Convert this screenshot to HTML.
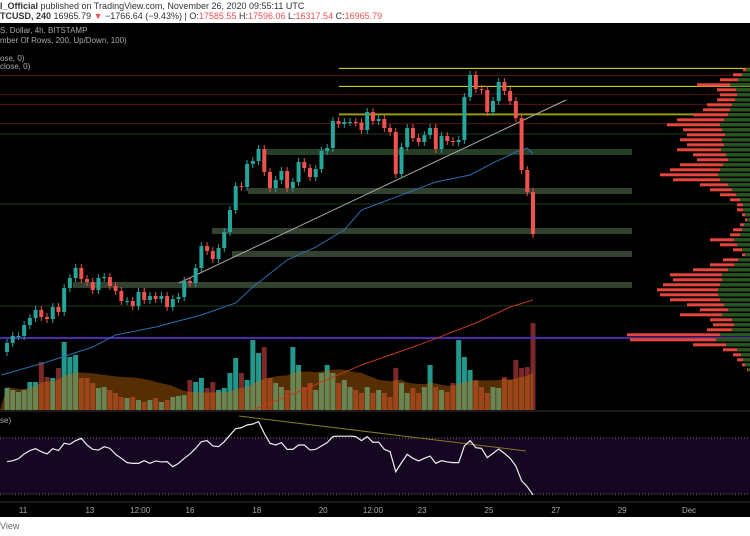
<!DOCTYPE html>
<html><head><meta charset="utf-8"><style>
body{margin:0;width:750px;height:536px;overflow:hidden;background:#fff;font-family:"Liberation Sans",sans-serif;}
#hdr{position:absolute;left:0;top:0;width:750px;height:23px;font-size:9px;color:#333;}
#hdr div{position:absolute;left:0;white-space:nowrap}
.red{color:#ef5350}
svg{position:absolute;left:0;top:0}
</style></head><body>
<div id="hdr">
<div style="top:1px"><b>l_Official</b> published on TradingView.com, November 26, 2020 09:55:11 UTC</div>
<div style="top:11px"><b>TCUSD, 240</b> 16965.79 <span class="red">▼</span> −1766.64 (−9.43%) | O:<span class="red">17585.55</span> H:<span class="red">17596.06</span> L:<span class="red">16317.54</span> C:<span class="red">16965.79</span></div>
</div>
<svg id="c" width="750" height="536"></svg>
<div style="position:absolute;left:0;top:521px;font-size:9px;color:#666">View</div>
<script>
const firstOpen = 15185;
const closes = [15321,15426,15426,15592,15698,15819,15713,15683,15864,15789,16151,16302,16453,16287,16242,16121,16302,16317,16181,16106,15955,15955,15879,16091,15970,16030,15985,16030,15864,15985,16015,16257,16227,16453,16785,16710,16589,16755,16997,17329,17691,17676,18024,18069,18250,17903,17661,17782,17918,17661,17752,18054,17963,17827,17948,18220,18265,18673,18628,18658,18658,18650,18537,18809,18673,18703,18567,18507,17873,18280,18567,18416,18356,18461,18567,18250,18446,18371,18356,18386,19035,19368,19156,19141,18809,18975,19262,19126,18975,18718,17933,17601,16966];
const volumes = [22,20,18,20,28,28,48,33,32,42,68,53,55,32,32,27,22,23,20,17,13,12,13,10,8,10,12,8,10,13,14,15,30,28,32,22,28,20,22,37,52,37,30,70,57,63,32,27,23,20,63,45,23,27,20,37,45,37,27,30,23,20,17,23,17,20,17,13,42,27,17,22,17,23,45,23,20,18,27,70,53,40,30,23,17,23,22,33,30,50,42,43,87];
const rsi = [53.1,53.8,55.2,58.6,61,62.4,60.2,58.6,62.4,61,66.2,65.5,68.1,69.8,65,61.9,61.4,63.8,62.6,58.3,55.5,52.4,51.9,51.9,53.8,51.9,53.6,52.9,53.1,49.5,51.9,55.5,58.6,62.6,67.4,68.1,64.3,63.8,67.4,72.1,76.7,77.4,79.3,80,81.7,73.3,66.2,65,66.7,61.9,61.9,65,65,61.4,61.9,64.3,66.7,71,71.4,71.2,71.4,71,68.1,71,66.9,67.1,61.9,60.2,45.9,52.4,58.3,55.5,53.6,55.5,57.1,51.9,53.8,52.9,52.4,52.4,64.3,68.1,63.1,62.6,56,59,62.1,59,55.5,50,39.5,35.2,29.3];
const maFastIdx = [-1,7,15,19,26,34,40,43,49,54,59,62,69,75,81,85,89,91,92];
const maFastVal = [14838,15034,15260,15442,15562,15744,15925,16166,16574,16770,17027,17329,17556,17752,17858,18039,18205,18265,18175];
const maSlowIdx = [43,53,62,72,82,88,92];
const maSlowVal = [14309,14656,14989,15290,15623,15864,15970];
const profileTop = 19446; const profileStep = 75.5;
const profileTotal = [7,17,30,53,33,30,33,43,47,57,73,83,67,63,70,63,73,57,53,70,80,90,77,50,40,30,20,13,13,8,5,10,17,20,40,30,17,8,27,40,57,80,77,87,93,90,80,63,50,70,40,37,43,123,120,57,27,17,13,8,3];
const profileUp = [4,8,12,20,14,13,15,18,20,22,26,30,28,25,28,26,29,24,22,27,30,32,30,22,18,14,10,7,7,5,3,6,8,10,16,13,8,5,12,16,22,28,28,30,32,32,30,26,22,28,18,16,18,30,34,24,13,9,7,5,2];
const levelsYellow = [19468,19196,18772];
const levelsRed = [19362,19075,18924,18633];
const levelsGreen = [18476,17419,15879];
const zones = [[18205,263],[17616,248],[17012,212],[16665,232],[16197,73]];
const purpleLevel = 15396;
const dayTicks = ["11","13","12:00","16","18","20","12:00","23","25","27","29","Dec"];
const dayTickPos = [2.8,14.5,23.3,32,43.7,55.3,64,72.6,84.3,96,107.6,119.3];

const S=document.getElementById('c'), NS='http://www.w3.org/2000/svg';
function mk(t,a,p){const e=document.createElementNS(NS,t);for(const k in a)e.setAttribute(k,a[k]);(p||S).appendChild(e);return e;}
const n=closes.length, step=(533-7)/(n-1);
const X=i=>7+i*step;
function y(p){return (20500-p)/15.1;}
const VB=410, VY=v=>VB-v;
const RY=v=>438+(70-v)*1.4;

let e;
e=mk('rect',{x:0,y:23,width:750,height:494,fill:'#000'});

[["S. Dollar, 4h, BITSTAMP",33],["mber Of Rows, 200, Up/Down, 100)",43],["ose, 0)",61],["close, 0)",69]].forEach(([t,yy])=>{e=mk('text',{x:0,y:yy,fill:'#aaa','font-size':8});e.textContent=t;});
levelsRed.forEach(p=>{e=mk('line',{x1:0,x2:750,y1:y(p),y2:y(p),stroke:'#5a1414','stroke-width':1});});
levelsGreen.forEach(p=>{e=mk('line',{x1:0,x2:750,y1:y(p),y2:y(p),stroke:'#1c3a1c','stroke-width':1});});
levelsYellow.forEach((p,i)=>{e=mk('line',{x1:339,x2:750,y1:y(p),y2:y(p),stroke:i==2?'#9a9a10':'#e6e61a','stroke-width':i==2?2:1});});
zones.forEach(([p,x0],i)=>{e=mk('rect',{x:x0,y:y(p)-3,width:632-x0,height:6,fill:i==0?'#263f26':'#33412f'});});
const vg=mk('g',{});
let prev=firstOpen;
for(let i=0;i<n;i++){const up=closes[i]>=prev;prev=closes[i];
 e=mk('rect',{x:X(i)-2.5,y:VY(volumes[i]),width:5,height:volumes[i],fill:up?'#22978b':'#7a2828'},vg);
 }
let pts=[];for(let i=0;i<n;i++){let s=0,c=0;for(let j=Math.max(0,i-19);j<=i;j++){s+=volumes[j];c++;}pts.push(X(i)+','+VY(s/c*1.05));}
e=mk('polygon',{points:'0,'+VB+' '+pts.join(' ')+' '+X(n-1)+','+VB,fill:'rgba(205,110,10,0.42)'});

e=mk('line',{x1:0,x2:750,y1:y(purpleLevel),y2:y(purpleLevel),stroke:'#4a2ab0','stroke-width':2});

for(let r=0;r<profileTotal.length;r++){const yy=y(profileTop-r*profileStep);
 e=mk('rect',{x:750-profileTotal[r],y:yy-1.5,width:profileTotal[r],height:3,fill:'#e8453c'});
 
 e=mk('rect',{x:750-profileUp[r],y:yy-1.5,width:profileUp[r],height:3,fill:'#1f5a1f'});
 }
function line(idx,val,col,name){e=mk('polyline',{points:idx.map((k,i)=>X(k)+','+y(val[i])).join(' '),fill:'none',stroke:col,'stroke-width':1});}
line(maSlowIdx,maSlowVal,'#c0391b','ma-200-line');
line(maFastIdx,maFastVal,'#2a6fb0','ma-50-line');
e=mk('line',{x1:179,y1:283,x2:566,y2:100,stroke:'#aaa','stroke-width':1});

const cg=mk('g',{});
prev=firstOpen;
for(let i=0;i<n;i++){const o=prev,c=closes[i];prev=c;const up=c>=o,col=up?'#26a69a':'#ef5350';
 const hi=Math.max(o,c)+60,lo=Math.min(o,c)-60;
 e=mk('line',{x1:X(i),x2:X(i),y1:y(hi),y2:y(lo),stroke:col,'stroke-width':1},cg);
 
 const t=y(Math.max(o,c)),b=y(Math.min(o,c));
 e=mk('rect',{x:X(i)-2,y:t,width:4,height:Math.max(1,b-t),fill:col},cg);
 }
e=mk('line',{x1:0,x2:750,y1:411,y2:411,stroke:'#333'});
e=mk('rect',{x:0,y:RY(70),width:750,height:RY(30)-RY(70),fill:'#150622'});
[70,30].forEach(v=>{e=mk('line',{x1:0,x2:750,y1:RY(v),y2:RY(v),stroke:'#777','stroke-dasharray':'1,2'});});
e=mk('text',{x:0,y:423,fill:'#aaa','font-size':8});e.textContent='se)';
e=mk('line',{x1:239,y1:416,x2:526,y2:451,stroke:'#8a7a20','stroke-width':1});
e=mk('polyline',{points:rsi.map((v,i)=>X(i)+','+RY(v)).join(' '),fill:'none',stroke:'#eee','stroke-width':1.2});
e=mk('line',{x1:0,x2:750,y1:502,y2:502,stroke:'#333'});
dayTicks.forEach((t,i)=>{e=mk('text',{x:X(dayTickPos[i]),y:513,fill:'#aaa','font-size':8,'text-anchor':'middle'});e.textContent=t;});
</script>
</body></html>
